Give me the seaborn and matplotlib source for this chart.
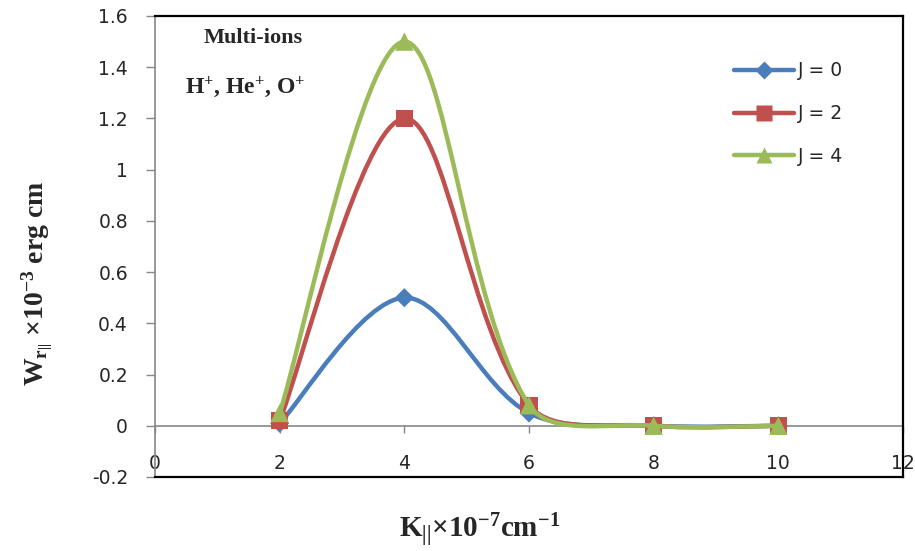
import numpy as np
import pandas as pd
import matplotlib
matplotlib.use("Agg")
import matplotlib.pyplot as plt
import seaborn as sns
from matplotlib.path import Path
from matplotlib.patches import PathPatch
from matplotlib.lines import Line2D

# data
k_par = [2, 4, 6, 8, 10]
w_j0 = [0.01, 0.50, 0.05, 0.00, 0.00]
w_j2 = [0.02, 1.20, 0.08, 0.00, 0.00]
w_j4 = [0.05, 1.50, 0.08, 0.00, 0.00]
series_labels = ["J = 0", "J = 2", "J = 4"]
x_ticks = [0, 2, 4, 6, 8, 10, 12]
y_ticks = [-0.2, 0, 0.2, 0.4, 0.6, 0.8, 1, 1.2, 1.4, 1.6]

colors = ["#4A7EBB", "#C0504D", "#9BBB59"]
markers = ["D", "s", "^"]
sizes = [95, 150, 175]

# axes box in figure pixels (915 x 551)
AX_L, AX_R, AX_T, AX_B = 155, 903, 16, 477
XLIM, YLIM = (0, 12), (-0.2, 1.6)


def smooth_path(xs, ys):
    """Excel-like smoothed line: cubic Bezier segments, tangents weighted by chord length (in pixels)."""
    sx = (AX_R - AX_L) / (XLIM[1] - XLIM[0])
    sy = (AX_B - AX_T) / (YLIM[1] - YLIM[0])
    pts = np.column_stack([np.asarray(xs, float) * sx, np.asarray(ys, float) * sy])
    n = len(pts)
    d = np.linalg.norm(np.diff(pts, axis=0), axis=1)
    out_c, in_c = [], []
    for i in range(n):
        p_prev = pts[max(i - 1, 0)]
        p_next = pts[min(i + 1, n - 1)]
        tan = p_next - p_prev
        d_in = d[i - 1] if i > 0 else 0.0
        d_out = d[i] if i < n - 1 else 0.0
        tot = d_in + d_out
        out_c.append(pts[i] + tan * (d_out / tot) / 3.0 * (0.5 if i == 0 else 1))
        in_c.append(pts[i] - tan * (d_in / tot) / 3.0 * (0.5 if i == n - 1 else 1))
    verts = [pts[0]]
    codes = [Path.MOVETO]
    for i in range(n - 1):
        verts += [out_c[i], in_c[i + 1], pts[i + 1]]
        codes += [Path.CURVE4] * 3
    verts = np.array(verts) / np.array([sx, sy])
    return Path(verts, codes)


df = pd.DataFrame({
    "k": k_par * 3,
    "w": w_j0 + w_j2 + w_j4,
    "series": [lab for lab in series_labels for _ in k_par],
})

sns.set_style("white")
plt.rcParams["mathtext.fontset"] = "custom"
plt.rcParams["mathtext.rm"] = "Liberation Serif:bold"
plt.rcParams["mathtext.it"] = "Liberation Serif:bold"
plt.rcParams["mathtext.bf"] = "Liberation Serif:bold"
plt.rcParams["font.family"] = ["DejaVu Sans"]

fig = plt.figure(figsize=(9.15, 5.51), dpi=100)
ax = fig.add_axes([AX_L / 915, 1 - AX_B / 551, (AX_R - AX_L) / 915, (AX_B - AX_T) / 551])

for i, lab in enumerate(series_labels):
    sub = df[df["series"] == lab]
    ax.add_patch(PathPatch(smooth_path(sub["k"], sub["w"]), fill=False,
                           edgecolor=colors[i], lw=3.2, zorder=2 + i,
                           capstyle="round", joinstyle="round"))
    sns.scatterplot(data=sub, x="k", y="w", ax=ax, color=colors[i],
                    marker=markers[i], s=sizes[i], edgecolor="none",
                    zorder=2.5 + i, legend=False)

ax.set_xlim(*XLIM)
ax.set_ylim(*YLIM)
ax.set_yticks(y_ticks)
ax.set_yticklabels(["%g" % v for v in y_ticks], fontsize=13.5)
ax.set_xticks([])
ax.tick_params(axis="y", direction="out", length=6.5, width=1,
               color="#868686", left=True, pad=13)

for side in ["top", "right", "bottom"]:
    ax.spines[side].set_color("black")
    ax.spines[side].set_linewidth(1.6)
ax.spines["left"].set_color("#868686")
ax.spines["left"].set_linewidth(1.2)

# horizontal axis line crossing at y = 0, labels next to it
zero_pos = (0 - YLIM[0]) / (YLIM[1] - YLIM[0])
sec = ax.secondary_xaxis(zero_pos)
sec.set_xticks(x_ticks)
sec.set_xticklabels([str(v) for v in x_ticks], fontsize=13.5)
sec.tick_params(direction="out", length=5, width=1, color="#868686", pad=15)
sec.spines["bottom"].set_color("#868686")
sec.spines["bottom"].set_linewidth(1.2)

ax.set_xlabel(r"K$_{||}$×10$^{-7}$cm$^{-1}$", fontsize=21,
              family="Liberation Serif", weight="bold", va="center")
ax.xaxis.set_label_coords((480 - AX_L) / (AX_R - AX_L), (AX_B - 531) / (AX_B - AX_T))
ax.set_ylabel(r"W$_{\mathrm{r}_{||}}$ ×10$^{-3}$ erg cm", fontsize=20,
              family="Liberation Serif", weight="bold", va="center")
ax.yaxis.set_label_coords((38 - AX_L) / (AX_R - AX_L), (AX_B - 283) / (AX_B - AX_T))

ax.text(0.131, 0.952, "Multi-ions", transform=ax.transAxes, ha="center",
        va="center", fontsize=16, family="Liberation Serif", weight="bold")
ax.text(0.040, 0.846, r"H$^{+}$, He$^{+}$, O$^{+}$", transform=ax.transAxes,
        ha="left", va="center", fontsize=17, family="Liberation Serif",
        weight="bold")

handles = [Line2D([], [], color=colors[i], lw=3.2, marker=markers[i],
                  markersize=[9, 11, 12][i], markeredgecolor="none")
           for i in range(3)]
ax.legend(handles, series_labels, loc="center left",
          bbox_to_anchor=(0.752, 0.788), frameon=False, fontsize=13.5,
          handlelength=3.2, handletextpad=0.2, labelspacing=1.27)

fig.savefig("out.png", dpi=100)
